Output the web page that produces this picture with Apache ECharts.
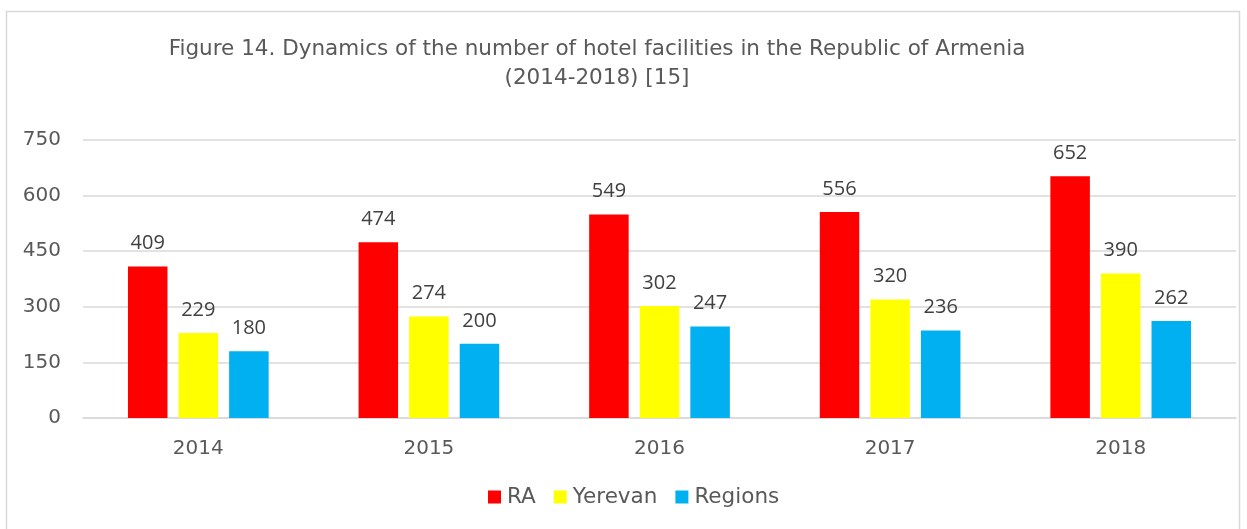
<!DOCTYPE html>
<html>
<head>
<meta charset="utf-8">
<script src="https://cdn.jsdelivr.net/npm/echarts@6/dist/echarts.min.js"></script>
<style>
  html, body { margin: 0; padding: 0; background: #fff; }
  #chart { width: 1247px; height: 529px; }
</style>
</head>
<body>
<div id="chart"></div>
<script>
var years = ['2014', '2015', '2016', '2017', '2018'];
var raValues = [409, 474, 549, 556, 652];
var yerevanValues = [229, 274, 302, 320, 390];
var regionsValues = [180, 200, 247, 236, 262];

function barSeries(name, data, color) {
  return {
    name: name,
    type: 'bar',
    data: data,
    barGap: '28%',
    barCategoryGap: '39%',
    itemStyle: { color: color },
    label: {
      show: true,
      position: 'top',
      distance: 13,
      color: '#404040',
      fontSize: 20,
      fontFamily: 'Open Sans'
    }
  };
}

var chart = echarts.init(document.getElementById('chart'));
chart.setOption({
  animation: false,
  graphic: [{
    type: 'rect',
    shape: { x: 6.5, y: 11.5, width: 1233, height: 530 },
    style: { fill: 'none', stroke: '#d9d9d9', lineWidth: 1.5 }
  }],
  title: {
    text: 'Figure 14. Dynamics of the number of hotel facilities in the Republic of Armenia\n(2014-2018) [15]',
    left: 592,
    top: 30,
    textAlign: 'center',
    textStyle: {
      fontFamily: 'DejaVu Sans',
      fontWeight: 'normal',
      fontSize: 21.5,
      color: '#595959',
      lineHeight: 29,
      align: 'center'
    }
  },
  legend: {
    bottom: 16,
    left: 483,
    itemWidth: 13,
    itemHeight: 13,
    itemGap: 18,
    icon: 'rect',
    textStyle: { fontFamily: 'DejaVu Sans', fontSize: 21.5, color: '#595959', padding: [0, 0, 0, 1] },
    data: ['RA', 'Yerevan', 'Regions']
  },
  grid: { left: 83, right: 11, top: 140, bottom: 111, containLabel: false },
  xAxis: {
    type: 'category',
    data: years,
    axisTick: { show: false },
    axisLine: { lineStyle: { color: '#d9d9d9', width: 1.5 } },
    axisLabel: { fontFamily: 'DejaVu Sans', fontSize: 20, color: '#595959', margin: 21 }
  },
  yAxis: {
    type: 'value',
    min: 0,
    max: 750,
    interval: 150,
    axisLine: { show: false },
    axisTick: { show: false },
    splitLine: { lineStyle: { color: '#d9d9d9', width: 1.5 } },
    axisLabel: { fontFamily: 'DejaVu Sans', fontSize: 20, color: '#595959', margin: 22 }
  },
  series: [
    barSeries('RA', raValues, '#ff0000'),
    barSeries('Yerevan', yerevanValues, '#ffff00'),
    barSeries('Regions', regionsValues, '#00b0f0')
  ]
});
</script>
</body>
</html>
